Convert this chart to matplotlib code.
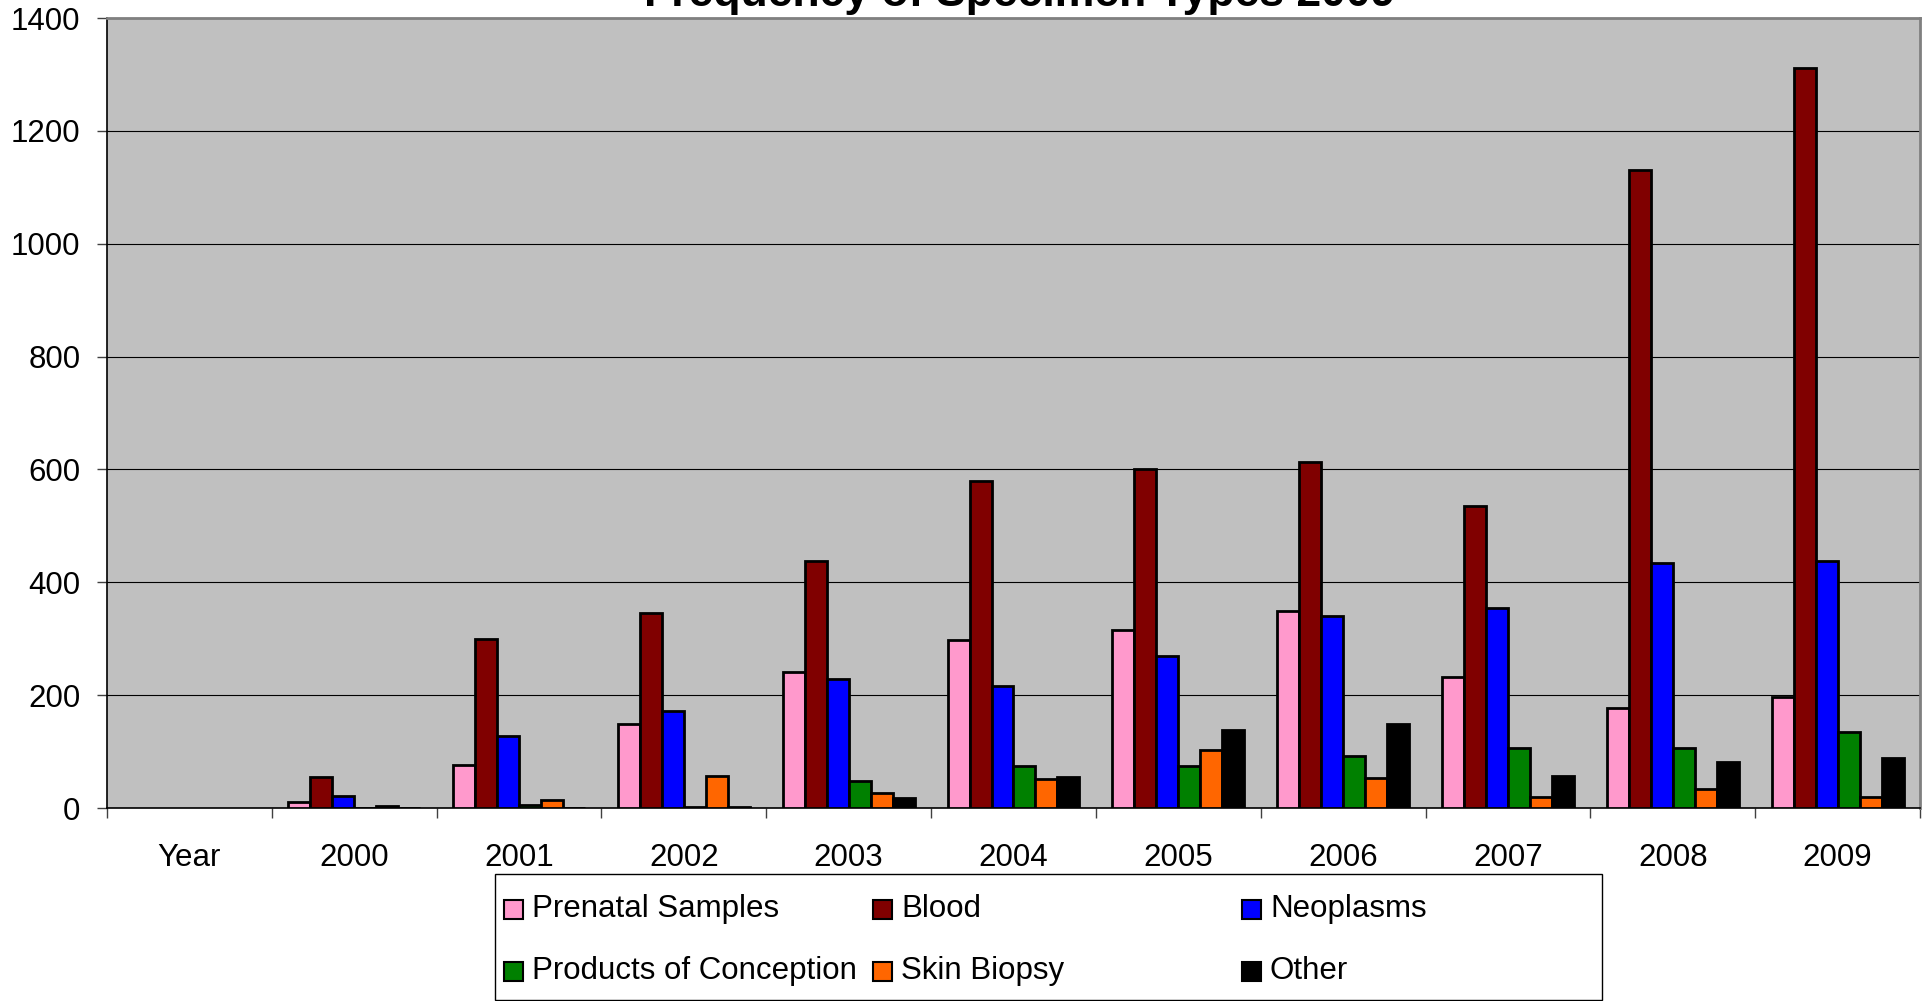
import numpy as np
import matplotlib
matplotlib.use("Agg")
import matplotlib.pyplot as plt
from matplotlib.patches import Rectangle

plt.rcParams['font.family'] = ['Liberation Sans', 'DejaVu Sans']

categories = ["Year", "2000", "2001", "2002", "2003", "2004", "2005", "2006", "2007", "2008", "2009"]
series_names = ["Prenatal Samples", "Blood", "Neoplasms", "Products of Conception", "Skin Biopsy", "Other"]
colors = ["#FF99CC", "#800000", "#0000FF", "#008000", "#FF6600", "#000000"]

prenatal = [11, 77, 148, 241, 298, 315, 350, 233, 177, 196]
blood = [55, 300, 345, 437, 580, 600, 614, 535, 1131, 1311]
neoplasms = [22, 127, 172, 229, 216, 270, 341, 354, 435, 438]
conception = [0, 6, 1, 47, 75, 74, 93, 107, 106, 134]
skin = [3, 14, 56, 26, 51, 102, 53, 20, 34, 20]
other = [0, 0, 2, 18, 55, 139, 149, 56, 82, 88]
series = [prenatal, blood, neoplasms, conception, skin, other]

W, H = 1931, 1001
fig = plt.figure(figsize=(W / 100, H / 100), dpi=100)
ax = fig.add_axes([107 / W, 1 - 808 / H, (1920 - 107) / W, (808 - 18) / H])
ax.set_facecolor("#C0C0C0")

w = 1 / 7.5
xbase = np.arange(1, len(categories))
for i, (vals, c, name) in enumerate(zip(series, colors, series_names)):
    ax.bar(xbase + (i - 2.5) * w, vals, width=w, color=c, edgecolor="black",
           linewidth=2.0, label=name, zorder=3)

ax.set_xlim(-0.5, len(categories) - 0.5)
ax.set_ylim(0, 1400)
ax.set_yticks(np.arange(0, 1401, 200))
ax.yaxis.grid(True, color="black", linewidth=0.8, zorder=1)
ax.set_axisbelow(True)

ax.set_xticks(np.arange(len(categories)))
ax.set_xticklabels(categories)
ax.set_xticks(np.arange(-0.5, len(categories), 1.0), minor=True)
ax.tick_params(axis="x", which="major", length=0, pad=25, labelsize=22.5)
ax.tick_params(axis="x", which="minor", length=7.2, width=1, color="#404040", direction="out")
ax.tick_params(axis="y", which="major", length=7.2, width=1, color="#404040", pad=12, labelsize=22.5)

for s in ["left", "bottom"]:
    ax.spines[s].set_color("black")
    ax.spines[s].set_linewidth(1.2)
for s in ["top", "right"]:
    ax.spines[s].set_color("#808080")
    ax.spines[s].set_linewidth(2)

# Title (partly cut off at the top, as in the reference)
fig.text(1020 / W, 1 - 6 / H, "Frequency of Specimen Types 2009", ha="center",
         va="baseline", fontsize=32, fontweight="bold")

# Legend box drawn manually (Excel-style fixed columns)
fig.patches.append(Rectangle((495 / W, 1 - 1000 / H), (1602 - 495) / W, (1000 - 874) / H,
                             transform=fig.transFigure, facecolor="white",
                             edgecolor="black", linewidth=1))
col_x = [504, 873, 1242]
row_y = [909, 971]
order = [(0, 0, 0), (1, 0, 1), (2, 0, 2), (3, 1, 0), (4, 1, 1), (5, 1, 2)]
msz = 19
for idx, r, cidx in order:
    mx = col_x[cidx]
    my = row_y[r]
    fig.patches.append(Rectangle((mx / W, 1 - (my + msz / 2) / H), msz / W, msz / H,
                                 transform=fig.transFigure, facecolor=colors[idx],
                                 edgecolor="black", linewidth=1.5))
    fig.text((mx + msz + 9) / W, 1 - my / H, series_names[idx], ha="left",
             va="center", fontsize=22.5)

fig.savefig("out.png", dpi=100)
